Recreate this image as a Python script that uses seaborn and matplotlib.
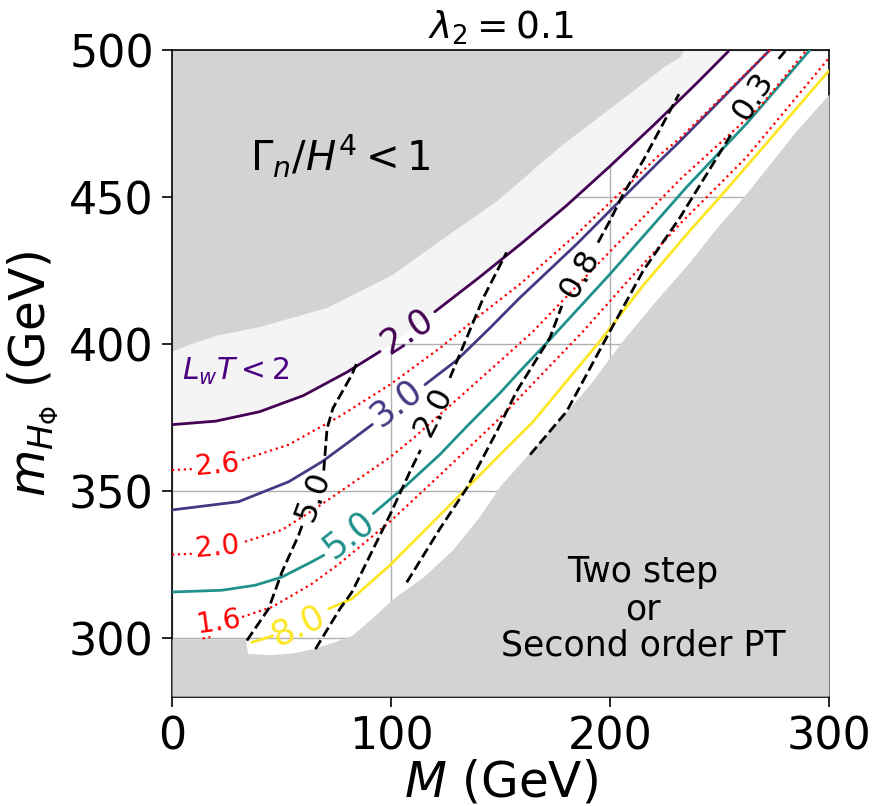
import numpy as np
import matplotlib
matplotlib.use("Agg")
import matplotlib.pyplot as plt
import seaborn as sns

# ---------------- data ----------------
x_ticks = [0, 100, 200, 300]
y_ticks = [300, 350, 400, 450, 500]

# upper-left excluded region  (Gamma_n / H^4 < 1)
gamma_bx = [0, 8, 20, 40, 70.7, 101, 124, 148.3, 169.6, 178.7, 204.6, 216.7, 224.4, 232, 233.5]
gamma_by = [397.6, 400, 403, 406, 412.5, 423.9, 436.2, 448.8, 462.5, 468.2, 482.9, 489.8, 494.3, 497.7, 500]

# lower-right excluded region (two step / second order PT)
two_bx = [0, 33.5, 34.5, 45, 55, 64, 73, 82, 90, 101, 115, 128, 140, 150, 162, 180, 191,
          205, 220, 236.5, 247, 262, 285, 300]
two_by = [299.8, 299.8, 294.8, 294.4, 295, 296.4, 298.5, 300.9, 306, 313.5, 321, 330, 341, 352,
          362, 377, 386.5, 400.5, 414, 428, 438, 451, 472.5, 485]

# L_w T contours (solid, viridis)
lw_levels = ["2.0", "3.0", "5.0", "8.0"]
lw_colors = ["#440154", "#443a83", "#21918c", "#fde725"]
c2_x = [[0, 20, 40, 60, 80, 95], [120, 140, 160, 180, 200, 220, 240, 254]]
c2_y = [[372.6, 373.8, 377, 382.5, 390.5, 397.5], [411, 422.5, 434.5, 447, 460.5, 474.5, 489, 499.5]]
c3_x = [[0, 30.4, 53.3, 68.5, 82.2, 91.5], [115.5, 130, 145.2, 158.9, 184.8, 204.6, 224.4, 232, 273]]
c3_y = [[343.6, 346.4, 353.2, 360, 367.5, 372.7], [386.2, 394.5, 405.5, 415.8, 434, 448.8, 463.5, 469, 500]]
c5_x = [[0, 22.8, 38, 50.2, 63.9, 69.3], [91.9, 107.2, 122.4, 134.6, 149.8, 158.9, 172.6, 200, 235, 262.4, 291.3]]
c5_y = [[315.7, 316.3, 318, 320.8, 326, 328.2], [342.4, 352.1, 362.5, 372, 383.4, 390.8, 401.6, 423.8, 453.4, 475, 500]]
c8_x = [[36.5, 44, 46], [71.5, 82.2, 99.5, 122.4, 140.6, 149.8, 165, 180.2, 195.4, 215.2, 236.5, 250.2, 270, 300]]
c8_y = [[298.6, 300.3, 300.8], [310, 313.4, 324.8, 341.9, 355.5, 362.4, 373.7, 387.4, 401, 420, 438.6, 450, 467, 493]]

# red dotted contours
red_levels = ["2.6", "2.0", "1.6"]
r26_x = [[0, 9], [32, 53.3, 76.7, 99.5, 122.4, 140.6, 158.9, 184.8, 207.6, 221.3, 232, 273]]
r26_y = [[357.2, 357.5], [360.6, 365.8, 375.5, 386.2, 398.7, 409.8, 420.4, 437.4, 453.5, 463.5, 470, 500]]
r20_x = [[0, 9], [33.3, 50.2, 65.3, 76.7, 99.5, 110.2, 149.8, 165, 200, 232, 268.5, 289.8]]
r20_y = [[328.4, 328.7], [332.8, 336.8, 344, 349.8, 361.5, 368, 394.2, 404.4, 431.5, 456, 480.7, 500]]
r16_x = [[14, 17.5], [32, 45.7, 63.9, 76.7, 99.5, 122.4, 142.2, 149.8, 187.8, 207.6, 232, 262.4, 300]]
r16_y = [[299.9, 300.4], [307.2, 310.6, 318.5, 325.5, 339.6, 355.5, 369.5, 374.9, 404.4, 421, 440.9, 463.6, 497.3]]

# black dashed contours
dash_levels = ["5.0", "2.0", "0.8", "0.3"]
d50_x = [[34.2, 44.1, 50.2, 57.8, 59.5], [69.3, 70.8, 73.5, 82.2, 84.4]]
d50_y = [[299.2, 310, 322.5, 335, 338.5], [357, 371.3, 378.2, 389.7, 393.6]]
d20_x = [[65.5, 73, 76.7, 82.2, 99.5, 108.7, 113.5], [126.9, 134.6, 142.2, 152.8]]
d20_y = [[296.3, 305.5, 310, 315.7, 341.9, 356.7, 364], [388.5, 402.2, 415.8, 431.2]]
d08_x = [[107.2, 122.4, 134.6, 148.3, 157.4, 172.6, 178], [194.5, 200, 206.1, 215.2, 231.5]]
d08_y = [[319, 337.3, 351, 370.3, 384, 402.2, 413], [434.5, 442, 451.1, 462.5, 485]]
d03_x = [[163.5, 180.2, 200, 215.2, 232, 255.5], [277, 281]]
d03_y = [[362.4, 377.1, 404.4, 425, 443.1, 471.5], [497, 500.5]]

# ---------------- figure ----------------
sns.set_style("ticks", {"axes.grid": True, "grid.color": "#b0b0b0",
                        "axes.edgecolor": "black", "xtick.direction": "out",
                        "ytick.direction": "out", "text.color": "black",
                        "axes.labelcolor": "black", "xtick.color": "black",
                        "ytick.color": "black"})
plt.rcParams["font.family"] = ["DejaVu Sans"]
plt.rcParams["mathtext.fontset"] = "dejavusans"

fig = plt.figure(figsize=(8.75, 8.06), dpi=100)
ax = fig.add_axes([172 / 875, 1 - 697 / 806, (829 - 172) / 875, (697 - 50) / 806])
ax.set_axisbelow(True)
ax.grid(True, color="#b0b0b0", lw=1.0, zorder=0.5)

# regions
ax.fill_between(c2_x[0] + c2_x[1], c2_y[0] + c2_y[1], 500, color="#f4f4f4", lw=0, zorder=1)
ax.fill_between(gamma_bx, gamma_by, 500, color="#d3d3d3", lw=0, zorder=1.1)
ax.fill_between(two_bx, 280.3, two_by, color="#d3d3d3", lw=0, zorder=3)


def draw(segs_x, segs_y, color, ls, lw):
    for sx, sy in zip(segs_x, segs_y):
        sns.lineplot(x=sx, y=sy, sort=False, estimator=None, color=color,
                     linestyle=ls, linewidth=lw, ax=ax, zorder=4)


for (sx, sy), col in zip([(c2_x, c2_y), (c3_x, c3_y), (c5_x, c5_y), (c8_x, c8_y)], lw_colors):
    draw(sx, sy, col, "-", 2.0)
for sx, sy in [(r26_x, r26_y), (r20_x, r20_y), (r16_x, r16_y)]:
    draw(sx, sy, "red", ":", 1.6)
for sx, sy in [(d50_x, d50_y), (d20_x, d20_y), (d08_x, d08_y), (d03_x, d03_y)]:
    draw(sx, sy, "black", "--", 2.0)

# inline contour labels
lw_lab_pos = [(107.5, 404.5, 33), (102.5, 380.0, 37), (80.5, 335.2, 38), (57.8, 304.3, 25)]
for (lx, ly, rot), txt, col in zip(lw_lab_pos, lw_levels, lw_colors):
    ax.text(lx, ly, txt, color=col, fontsize=25, rotation=rot, ha="center", va="center",
            rotation_mode="anchor", zorder=5)
red_lab_pos = [(20.5, 358.8, 5), (20.5, 330.8, 5), (21.5, 305.5, 8)]
for (lx, ly, rot), txt in zip(red_lab_pos, red_levels):
    ax.text(lx, ly, txt, color="red", fontsize=20, rotation=rot, ha="center", va="center",
            rotation_mode="anchor", zorder=5)
dash_lab_pos = [(64.4, 348.3, 70), (119.5, 377.0, 63), (186.2, 424.0, 60), (265.5, 484.5, 57)]
for (lx, ly, rot), txt in zip(dash_lab_pos, dash_levels):
    ax.text(lx, ly, txt, color="black", fontsize=23, rotation=rot, ha="center", va="center",
            rotation_mode="anchor", zorder=5)

# region annotations
ax.text(76.7, 464, r"$\Gamma_n/H^4 < 1$", fontsize=29, ha="center", va="center", zorder=6)
ax.text(29.2, 390.8, r"$L_wT < 2$", fontsize=21.5, color="#4b0082", ha="center", va="center", zorder=6)
ax.text(215, 309.9, "Two step\nor\nSecond order PT", fontsize=25, ha="center", va="center",
        multialignment="center", zorder=6, linespacing=1.1)

ax.set_xlim(0, 300)
ax.set_ylim(280, 500)
ax.set_xticks(x_ticks)
ax.set_yticks(y_ticks)
ax.tick_params(labelsize=32, length=7, width=1.2, pad=6)
for s in ax.spines.values():
    s.set_linewidth(1.2)
    s.set_color("black")
ax.set_xlabel(r"$M$ (GeV)", fontsize=35, labelpad=0)
ax.set_ylabel(r"$m_{H_\Phi}$ (GeV)", fontsize=35, labelpad=6)
ax.set_title(r"$\lambda_2 = 0.1$", fontsize=27, pad=8)

fig.savefig("out.png", dpi=100)
